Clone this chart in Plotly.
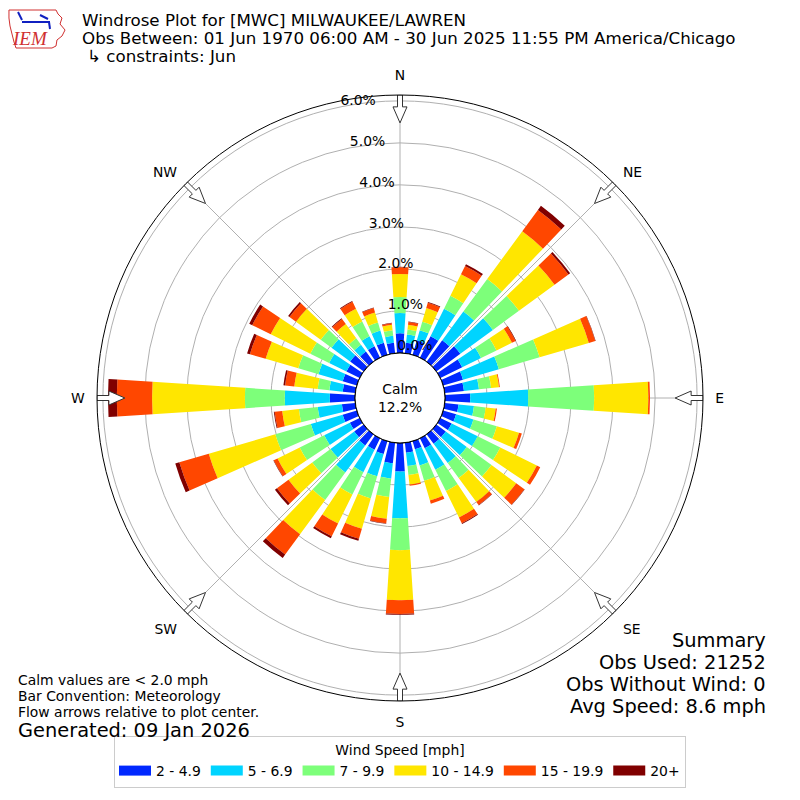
import numpy as np
import plotly.graph_objects as go

# wind directions (deg, meteorological: where the wind blows from)
directions = list(range(0, 360, 10))

# percent of observations per direction, one list per speed bin
spd_2_5 = [0.47, 0.25, 0.36, 0.57, 0.63, 0.71, 0.58, 0.49, 0.46,
           0.60, 0.33, 0.32, 0.30, 0.28, 0.28, 0.26, 0.20, 0.24,
           0.68, 0.49, 0.32, 0.30, 0.33, 0.28, 0.26, 0.35, 0.32,
           0.60, 0.30, 0.35, 0.35, 0.40, 0.30, 0.30, 0.30, 0.25]
spd_5_7 = [0.48, 0.20, 0.25, 0.73, 0.85, 0.96, 0.50, 0.89, 0.36,
           1.38, 0.37, 0.43, 0.69, 0.62, 0.57, 0.57, 0.40, 0.32,
           1.11, 0.37, 0.55, 0.60, 0.80, 0.70, 0.68, 0.79, 0.58,
           1.07, 0.32, 0.60, 0.46, 0.55, 0.20, 0.27, 0.30, 0.17]
spd_7_10 = [0.38, 0.12, 0.21, 0.34, 0.96, 0.77, 0.41, 1.01, 0.29,
            1.57, 0.28, 0.58, 0.60, 0.73, 0.44, 0.57, 0.38, 0.21,
            0.76, 0.44, 0.55, 0.59, 0.81, 0.54, 0.65, 0.88, 0.45,
            0.95, 0.28, 0.50, 0.50, 0.32, 0.19, 0.39, 0.20, 0.13]
spd_10_15 = [0.55, 0.11, 0.34, 0.57, 1.41, 1.05, 0.41, 1.22, 0.19,
             1.29, 0.24, 0.55, 0.97, 0.73, 0.71, 0.70, 0.49, 0.23,
             1.19, 0.52, 0.75, 0.77, 1.01, 0.70, 0.59, 1.65, 0.40,
             2.21, 0.56, 0.81, 1.05, 0.73, 0.42, 0.34, 0.25, 0.13]
spd_15_20 = [0.16, 0.07, 0.13, 0.22, 0.63, 0.41, 0.10, 0.16, 0.02,
             0.04, 0.03, 0.07, 0.09, 0.24, 0.09, 0.15, 0.08, 0.03,
             0.33, 0.11, 0.25, 0.34, 0.60, 0.34, 0.10, 0.73, 0.18,
             0.84, 0.22, 0.39, 0.49, 0.19, 0.15, 0.18, 0.11, 0.04]
spd_20p = [0.01, 0.01, 0.02, 0.05, 0.12, 0.05, 0.01, 0.01, 0.00,
           0.00, 0.00, 0.00, 0.00, 0.01, 0.01, 0.02, 0.00, 0.00,
           0.02, 0.01, 0.05, 0.05, 0.10, 0.06, 0.01, 0.10, 0.02,
           0.21, 0.04, 0.07, 0.08, 0.04, 0.02, 0.02, 0.01, 0.01]

bin_labels = ["2 - 4.9", "5 - 6.9", "7 - 9.9", "10 - 14.9", "15 - 19.9", "20+"]
bin_colors = ["#0028ff", "#00d4ff", "#7dff7a", "#ffe600", "#ff4700", "#800000"]

compass_deg = [0, 45, 90, 135, 180, 225, 270, 315]
compass_txt = ["N", "NE", "E", "SE", "S", "SW", "W", "NW"]
pct_ticks = [0, 1, 2, 3, 4, 5, 6]

calm_pct = 12.2
R_MAX = 6.14
W, H = 800, 800
FONT = "DejaVu Sans"
SMALL = 13.9   # 10pt
BIG = 19.4     # 14pt

fig = go.Figure()

series = [spd_2_5, spd_5_7, spd_7_10, spd_10_15, spd_15_20, spd_20p]
for vals, lab, col in zip(series, bin_labels, bin_colors):
    fig.add_trace(go.Barpolar(r=vals, theta=directions, width=7.5, name=lab,
                              legendgroup=lab, showlegend=False,
                              marker=dict(color=col, line=dict(width=0))))
    # legend swatch as a wide rectangle, like the matplotlib legend
    fig.add_trace(go.Scatterpolar(r=[None], theta=[None], mode="lines", name=lab,
                                  legendgroup=lab, line=dict(color=col, width=10),
                                  hoverinfo="skip"))

# black ring around calm hole
ring = list(range(0, 361, 2))
fig.add_trace(go.Scatterpolar(r=[0] * len(ring), theta=ring, mode="lines",
                              line=dict(color="black", width=1),
                              showlegend=False, hoverinfo="skip", cliponaxis=False))

# flow arrows on the outer circle (pixel geometry -> polar coords)
px_per_pct = 42.0
hole_px = 45.0
arrow_pts = [(303, -2.5), (291, -2.5), (291, -7), (275, 0), (291, 7), (291, 2.5), (303, 2.5), (303, -2.5)]
for ang in compass_deg:
    rr, tt = [], []
    for d, w in arrow_pts:
        rp = np.hypot(d, w)
        rr.append((rp - hole_px) / px_per_pct)
        tt.append(ang + np.degrees(np.arctan2(w, d)))
    fig.add_trace(go.Scatterpolar(r=rr, theta=tt, mode="lines", fill="toself",
                                  fillcolor="white", line=dict(color="#333333", width=1),
                                  showlegend=False, hoverinfo="skip", cliponaxis=False))

fig.update_layout(
    width=W, height=H,
    margin=dict(l=0, r=0, t=0, b=0),
    paper_bgcolor="white",
    font=dict(family=FONT, color="black"),
    polar=dict(
        domain=dict(x=[97 / W, 703 / W], y=[99 / H, 705 / H]),
        hole=hole_px / 303,
        bgcolor="white",
        barmode="stack",
        angularaxis=dict(rotation=90, direction="clockwise",
                         tickvals=compass_deg, ticktext=compass_txt,
                         tickfont=dict(size=SMALL), ticks="outside", ticklen=9,
                         tickcolor="rgba(0,0,0,0)",
                         showgrid=True, gridcolor="#b0b0b0", gridwidth=1,
                         showline=True, linecolor="black", linewidth=1),
        # labels sit just above each ring, a little left of north
        radialaxis=dict(range=[0, R_MAX], tickvals=pct_ticks,
                        ticktext=["%.1f%%<br> " % v for v in pct_ticks],
                        tickfont=dict(size=SMALL), angle=103, tickangle=103,
                        showline=False, ticks="", gridcolor="#b0b0b0", gridwidth=1),
    ),
    legend=dict(orientation="h", x=0.5, xanchor="center", y=12 / H, yanchor="bottom",
                bordercolor="#cccccc", borderwidth=1, font=dict(size=SMALL),
                itemwidth=32,
                title=dict(text="Wind Speed [mph]", side="top center", font=dict(size=SMALL))),
)

annos = [
    dict(x=80 / W, y=1 - 20 / H, text="Windrose Plot for [MWC] MILWAUKEE/LAWREN", size=16.7, xa="left"),
    dict(x=80 / W, y=1 - 38 / H, text="Obs Between: 01 Jun 1970 06:00 AM - 30 Jun 2025 11:55 PM America/Chicago", size=16.7, xa="left"),
    dict(x=85 / W, y=1 - 56 / H, text="\u21b3 constraints: Jun", size=16.7, xa="left"),
    dict(x=16 / W, y=1 - 680 / H, text="Calm values are < 2.0 mph", size=SMALL, xa="left"),
    dict(x=16 / W, y=1 - 696 / H, text="Bar Convention: Meteorology", size=SMALL, xa="left"),
    dict(x=16 / W, y=1 - 712 / H, text="Flow arrows relative to plot center.", size=SMALL, xa="left"),
    dict(x=16 / W, y=1 - 730 / H, text="Generated: 09 Jan 2026", size=BIG, xa="left"),
    dict(x=768 / W, y=1 - 640 / H, text="Summary", size=BIG, xa="right"),
    dict(x=768 / W, y=1 - 662 / H, text="Obs Used: 21252", size=BIG, xa="right"),
    dict(x=768 / W, y=1 - 684 / H, text="Obs Without Wind: 0", size=BIG, xa="right"),
    dict(x=768 / W, y=1 - 706 / H, text="Avg Speed: 8.6 mph", size=BIG, xa="right"),
    dict(x=400 / W, y=1 - 398 / H, text="Calm<br>%.1f%%" % calm_pct, size=SMALL, xa="center"),
]
for a in annos:
    fig.add_annotation(x=a["x"], y=a["y"], xref="paper", yref="paper", text=a["text"],
                       showarrow=False, xanchor=a["xa"], yanchor="middle",
                       font=dict(size=a["size"], family=FONT, color="black"))

# little IEM logo
def pp(x, y):
    return "%.4f,%.4f" % (x / W, 1 - y / H)

iowa = [(9, 10), (56, 10), (58, 14), (62, 18), (60, 24), (65, 30), (62, 36), (57, 40),
        (56, 46), (52, 48), (16, 48), (14, 42), (12, 34), (10, 26), (9, 18)]
path = "M" + " L".join(pp(x, y) for x, y in iowa) + " Z"
fig.add_shape(type="path", path=path, xref="paper", yref="paper",
              line=dict(color="#d03030", width=1))
for (x0, y0, x1, y1) in [(22, 22, 50, 22), (18, 12, 22, 20), (40, 15, 48, 19), (49, 22, 50, 29)]:
    fig.add_shape(type="line", x0=x0 / W, y0=1 - y0 / H, x1=x1 / W, y1=1 - y1 / H,
                  xref="paper", yref="paper", line=dict(color="#1020c0", width=2))
fig.add_annotation(x=30 / W, y=1 - 39 / H, xref="paper", yref="paper", text="<i>IEM</i>",
                   showarrow=False, xanchor="center", yanchor="middle",
                   font=dict(size=19, family="Liberation Serif", color="#d03030"))

fig.write_html("out.html", config={"displayModeBar": False},
               post_script="document.body.style.margin='0px';")
